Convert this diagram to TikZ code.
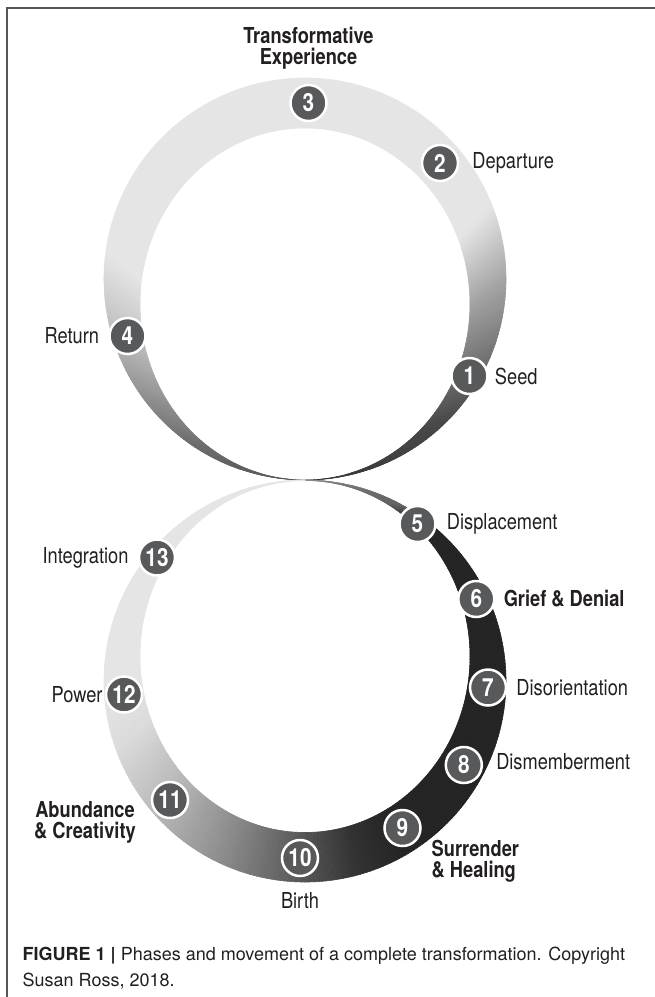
\documentclass[tikz,border=0pt]{standalone}
\usepackage{fontspec}
\setmainfont{TeX Gyre Heros}
\newfontfamily\narrowfont{TeX Gyre Heros}[FakeStretch=0.83]
\usetikzlibrary{positioning}
\definecolor{phasegray}{HTML}{58595B}
\definecolor{inkblack}{HTML}{231F20}
\definecolor{framegray}{HTML}{555555}

\begin{document}
\begin{tikzpicture}[x=1pt, y=-1pt,
    seg/.style={fill=black!#1, draw=black!#1, line width=0.6pt},
    phase/.style={circle, 
      fill=phasegray, 
      draw=white, 
      line width=2.5pt, 
      minimum size=36pt, 
      inner sep=0pt, 
      text=white, 
      font=\narrowfont\bfseries\fontsize{25}{25}\selectfont},
    stage/.style={text=inkblack, 
      inner sep=0pt, 
      font=\narrowfont\fontsize{22}{22}\selectfont},
    stagebold/.style={stage, 
      align=center, 
      font=\narrowfont\bfseries\fontsize{22}{21}\selectfont}]

  \useasboundingbox (0,0) rectangle (655,997);

  \draw[framegray, line width=1.3pt] (7,997) -- (7,8) -- (655,8);

  \foreach \ua/\ub/\ca/\cb in {0/45/80/72, 45/60/72/62, 60/90/62/36, 
    90/112/36/10, 112/262/10/10, 262/280/10/22, 280/290/22/31, 
    290/307/31/45, 307/325/45/58, 325/360/58/68} {
    \pgfmathtruncatemacro\nseg{\ub-\ua}
    \foreach \k in {1,...,\nseg} {
      \pgfmathsetmacro\u{\ua+\k-1}
      \pgfmathsetmacro\pct{\ca+(\cb-\ca)*(\k-0.5)/\nseg}
      \path[seg=\pct] ({305+201*sin(\u)},{279+201*cos(\u)}) 
        -- ({305+201*sin(\u+1)},{279+201*cos(\u+1)}) 
        -- ({305+165*sin(\u+1)},{304+176*cos(\u+1)}) 
        -- ({305+165*sin(\u)},{304+176*cos(\u)}) -- cycle;
    }
  }

  \foreach \ua/\ub/\ca/\cb in {0/30/45/62, 30/40/62/86, 40/150/86/86, 
    150/165/86/80, 165/181/80/66, 181/205/66/45, 205/229/45/27, 
    229/250/27/14, 250/265/14/10, 265/360/10/10} {
    \pgfmathtruncatemacro\nseg{\ub-\ua}
    \foreach \k in {1,...,\nseg} {
      \pgfmathsetmacro\u{\ua+\k-1}
      \pgfmathsetmacro\pct{\ca+(\cb-\ca)*(\k-0.5)/\nseg}
      \path[seg=\pct] ({305+201*sin(\u)},{681-201*cos(\u)}) 
        -- ({305+201*sin(\u+1)},{681-201*cos(\u+1)}) 
        -- ({305+165*sin(\u+1)},{656.5-176*cos(\u+1)}) 
        -- ({305+165*sin(\u)},{656.5-176*cos(\u)}) -- cycle;
    }
  }

  \node[phase] (seed) at (469.5,376) {1};
  \node[phase] (departure) at (440,163) {2};
  \node[phase] (experience) at (308.5,103) {3};
  \node[phase] (return) at (127.5,336) {4};
  \node[phase] (displacement) at (417.5,524) {5};
  \node[phase] (grief) at (476.3,599) {6};
  \node[phase] (disorientation) at (488,687.5) {7};
  \node[phase] (dismemberment) at (463.8,765) {8};
  \node[phase] (surrender) at (402.5,828) {9};
  \node[phase] (birth) at (300,858) {10};
  \node[phase] (abundance) at (170,800) {11};
  \node[phase] (power) at (124,694.5) {12};
  \node[phase] (integration) at (157,557.5) {13};

  \node[stage, right=6pt of seed] (seedlabel) {Seed};
  \node[stage, right=13pt of departure] (departurelabel) {Departure};
  \node[stagebold, above=14pt of experience] (experiencelabel) 
    {Transformative\\Experience};
  \node[stage, left=9pt of return] (returnlabel) {Return};
  \node[stage, right=10pt of displacement] (displacementlabel) {Displacement};
  \node[stagebold, right=8pt of grief] (grieflabel) {Grief \& Denial};
  \node[stage, right=9pt of disorientation] (disorientationlabel) {Disorientation};
  \node[stage, right=13pt of dismemberment, yshift=3pt] (dismembermentlabel) 
    {Dismemberment};
  \node[stagebold, align=left, anchor=north west] (surrenderlabel) 
    at (431.5,840) {Surrender\\\& Healing};
  \node[stage, below=15pt of birth] (birthlabel) {Birth};
  \node[stagebold, anchor=north] (abundancelabel) 
    at (85,801) {Abundance\\\& Creativity};
  \node[stage, left=2pt of power] (powerlabel) {Power};
  \node[stage, left=9pt of integration] (integrationlabel) {Integration};

  \node[anchor=base west, align=left, inner sep=0pt, text=inkblack, 
    font=\fontsize{18}{26}\selectfont] (caption) at (22.5,986) 
    {\textbf{FIGURE 1 |} Phases and movement of a complete transformation. Copyright\\
    Susan Ross, 2018.};

\end{tikzpicture}
\end{document}
